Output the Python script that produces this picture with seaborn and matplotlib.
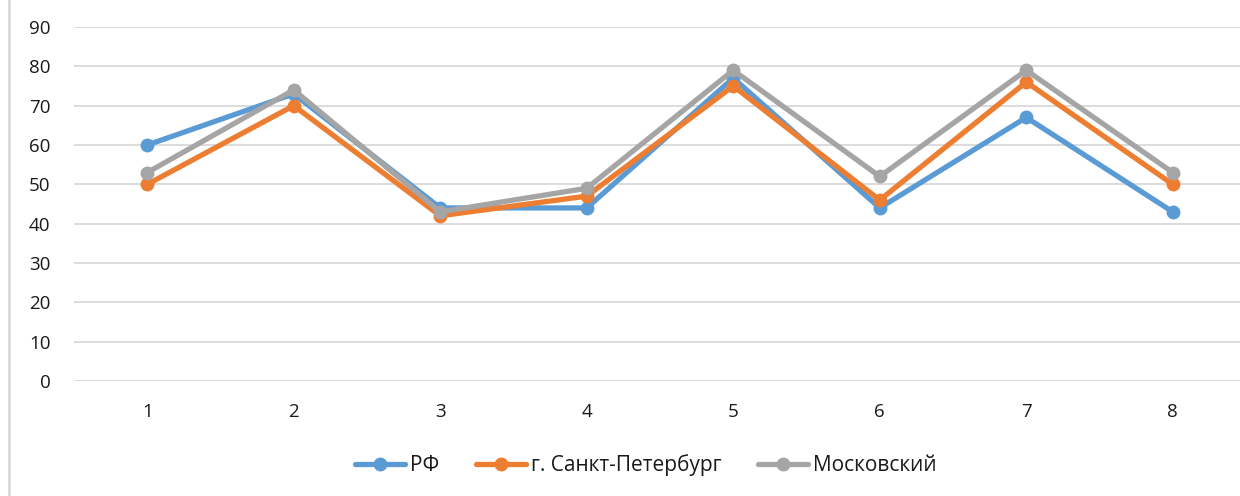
import matplotlib
matplotlib.use("Agg")
import matplotlib.pyplot as plt
import seaborn as sns
import pandas as pd
from matplotlib.lines import Line2D

categories = ["1", "2", "3", "4", "5", "6", "7", "8"]
rf = [60, 73, 44, 44, 77, 44, 67, 43]
spb = [50, 70, 42, 47, 75, 46, 76, 50]
mosk = [53, 74, 43, 49, 79, 52, 79, 53]
series_names = ["РФ", "г. Санкт-Петербург", "Московский"]
colors = ["#5B9BD5", "#ED7D31", "#A5A5A5"]
y_ticks = [0, 10, 20, 30, 40, 50, 60, 70, 80, 90]

df = pd.DataFrame({
    "x": categories * 3,
    "value": rf + spb + mosk,
    "series": [series_names[0]] * 8 + [series_names[1]] * 8 + [series_names[2]] * 8,
})

sns.set_style("white")
plt.rcParams["font.family"] = ["Open Sans", "DejaVu Sans"]

W, H = 1240, 496
fig = plt.figure(figsize=(W / 100, H / 100), dpi=100)
left = 74 / W
right = 1246 / W
bottom = (H - 381) / H
top = (H - 27) / H
ax = fig.add_axes([left, bottom, right - left, top - bottom])

sns.lineplot(data=df, x="x", y="value", hue="series", palette=colors,
             marker="o", markersize=10, linewidth=3.8, markeredgewidth=0,
             ax=ax, legend=False, sort=False)

ax.set_xlim(-0.5, 7.5)
ax.set_ylim(0, 90)
ax.set_yticks(y_ticks)
ax.set_xlabel("")
ax.set_ylabel("")
ax.grid(axis="y", color="#D9D9D9", linewidth=1.3)
ax.set_axisbelow(True)
for s in ax.spines.values():
    s.set_visible(False)
ax.tick_params(axis="both", length=0, labelsize=13.5, colors="#1a1a1a")
ax.tick_params(axis="y", pad=17)
ax.tick_params(axis="x", pad=16)

# chart-area frame on the left edge
fig.add_artist(Line2D([8.5 / W, 8.5 / W], [0, 1], color="#D9D9D9", linewidth=2,
                      transform=fig.transFigure))

handles = [Line2D([0], [0], color=c, linewidth=3.8, marker="o", markersize=10,
                  markeredgewidth=0) for c in colors]
fig.legend(handles, series_names, loc="center", bbox_to_anchor=(646 / W, (H - 465) / H),
           ncol=3, frameon=False, fontsize=15, handlelength=2.4, handletextpad=0.25,
           columnspacing=1.75, labelcolor="#1a1a1a")

fig.savefig("out.png", dpi=100)
